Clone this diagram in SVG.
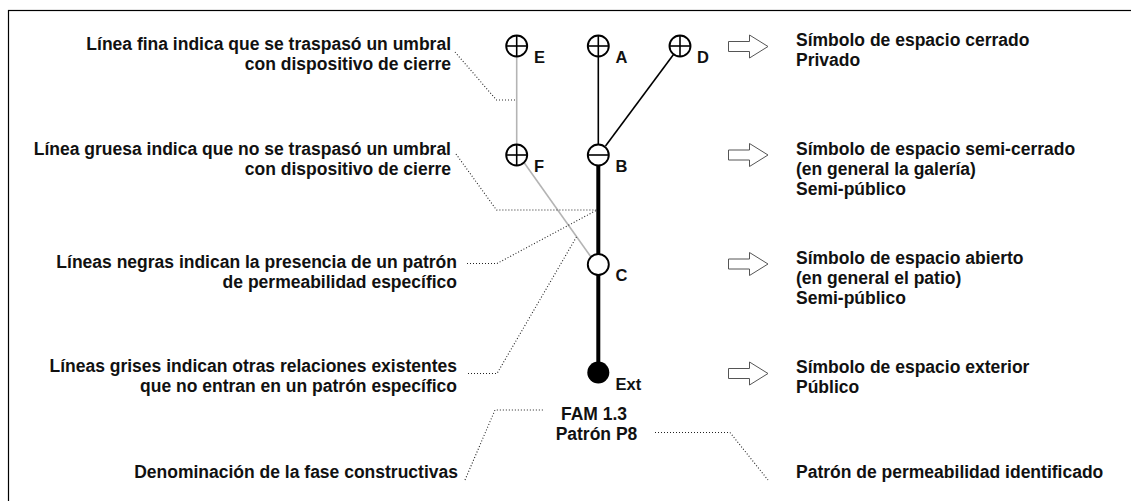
<svg xmlns="http://www.w3.org/2000/svg" width="1131" height="501" viewBox="0 0 1131 501">
<style>
text{font-family:"Liberation Sans",Arial,sans-serif;font-weight:bold;font-size:17.5px;fill:#111}
.l{text-anchor:end}
.c{text-anchor:middle}
.n{font-size:16.5px}
.sym{fill:#fff;stroke:#000;stroke-width:1.9}
.x{stroke:#000;stroke-width:1.6}
.thin{stroke:#000;stroke-width:1.6;fill:none}
.gray{stroke:#b4b4b4;stroke-width:1.6;fill:none}
.thick{stroke:#000;stroke-width:4;fill:none}
.dot{stroke:#222;stroke-width:1.1;stroke-dasharray:1 2;fill:none}
.arr{fill:#fff;stroke:#555;stroke-width:1}
</style>
<rect x="8.5" y="10.5" width="1140" height="510" fill="none" stroke="#000" stroke-width="1.2"/>
<g id="connectors">
<line class="gray" x1="516.7" y1="56" x2="516.7" y2="145"/>
<line class="thin" x1="598.3" y1="56" x2="598.3" y2="145"/>
<line class="thin" x1="673.5" y1="54.5" x2="605.5" y2="146"/>
<line class="gray" x1="524" y1="162.5" x2="591" y2="257"/>
<line class="thick" x1="598.3" y1="165" x2="598.3" y2="254"/>
<line class="thick" x1="598.3" y1="275" x2="598.3" y2="363"/>
<polyline class="dot" points="455,52 496.5,100 516.7,100"/>
<polyline class="dot" points="456,154 496.5,210 597,210"/>
<polyline class="dot" points="467,263.5 497,263.5 597,210"/>
<polyline class="dot" points="468,373.5 497,373.5 577,236"/>
<polyline class="dot" points="465,480 495,410 544,410"/>
<polyline class="dot" points="655,432.5 730,432.5 768,480"/>
</g>
<g id="node-E"><circle class="sym" cx="516.7" cy="46" r="10.5"/><line class="x" x1="506.2" y1="46" x2="527.2" y2="46"/><line class="x" x1="516.7" y1="35.5" x2="516.7" y2="56.5"/><text class="n" x="534" y="63">E</text></g>
<g id="node-A"><circle class="sym" cx="598.3" cy="46" r="10.5"/><line class="x" x1="587.8" y1="46" x2="608.8" y2="46"/><line class="x" x1="598.3" y1="35.5" x2="598.3" y2="56.5"/><text class="n" x="615.5" y="63">A</text></g>
<g id="node-D"><circle class="sym" cx="680" cy="46" r="10.5"/><line class="x" x1="669.5" y1="46" x2="690.5" y2="46"/><line class="x" x1="680" y1="35.5" x2="680" y2="56.5"/><text class="n" x="697" y="63">D</text></g>
<g id="node-F"><circle class="sym" cx="516.7" cy="155" r="10.5"/><line class="x" x1="506.2" y1="155" x2="527.2" y2="155"/><line class="x" x1="516.7" y1="144.5" x2="516.7" y2="165.5"/><text class="n" x="534" y="172">F</text></g>
<g id="node-B"><circle class="sym" cx="598.3" cy="155" r="10.5"/><line class="x" x1="587.8" y1="155" x2="608.8" y2="155"/><text class="n" x="615.5" y="172">B</text></g>
<g id="node-C"><circle class="sym" cx="598.3" cy="264.5" r="10.5"/><text class="n" x="615.5" y="281">C</text></g>
<g id="node-Ext"><circle cx="598.3" cy="372.5" r="11" fill="#000"/><text class="n" x="615.5" y="390">Ext</text></g>
<g id="label-fina"><text class="l" x="451" y="50">Línea fina indica que se traspasó un umbral</text><text class="l" x="451" y="70">con dispositivo de cierre</text></g>
<g id="label-gruesa"><text class="l" x="451" y="155">Línea gruesa indica que no se traspasó un umbral</text><text class="l" x="451" y="175">con dispositivo de cierre</text></g>
<g id="label-negras"><text class="l" x="457" y="268">Líneas negras indican la presencia de un patrón</text><text class="l" x="457" y="288">de permeabilidad específico</text></g>
<g id="label-grises"><text class="l" x="457" y="372">Líneas grises indican otras relaciones existentes</text><text class="l" x="457" y="392">que no entran en un patrón específico</text></g>
<g id="label-fase"><text class="l" x="458" y="478">Denominación de la fase constructivas</text></g>
<g id="label-fam"><text class="c" x="594" y="420">FAM 1.3</text><text class="c" x="596.5" y="440">Patrón P8</text></g>
<g id="label-patron"><text x="796" y="478">Patrón de permeabilidad identificado</text></g>
<g id="legend-cerrado"><path class="arr" d="M728.5,41.5 H749.5 V35 L768,46.5 L749.5,58 V51.5 H728.5 Z"/><text x="796" y="46">Símbolo de espacio cerrado</text><text x="796" y="66">Privado</text></g>
<g id="legend-semicerrado"><path class="arr" d="M728.5,150 H749.5 V143.5 L768,155 L749.5,166.5 V160 H728.5 Z"/><text x="796" y="155">Símbolo de espacio semi-cerrado</text><text x="796" y="175">(en general la galería)</text><text x="796" y="195">Semi-público</text></g>
<g id="legend-abierto"><path class="arr" d="M728.5,259 H749.5 V252.5 L768,264 L749.5,275.5 V269 H728.5 Z"/><text x="796" y="264">Símbolo de espacio abierto</text><text x="796" y="284">(en general el patio)</text><text x="796" y="304">Semi-público</text></g>
<g id="legend-exterior"><path class="arr" d="M728.5,368.5 H749.5 V362 L768,373.5 L749.5,385 V378.5 H728.5 Z"/><text x="796" y="373">Símbolo de espacio exterior</text><text x="796" y="393">Público</text></g>
</svg>
